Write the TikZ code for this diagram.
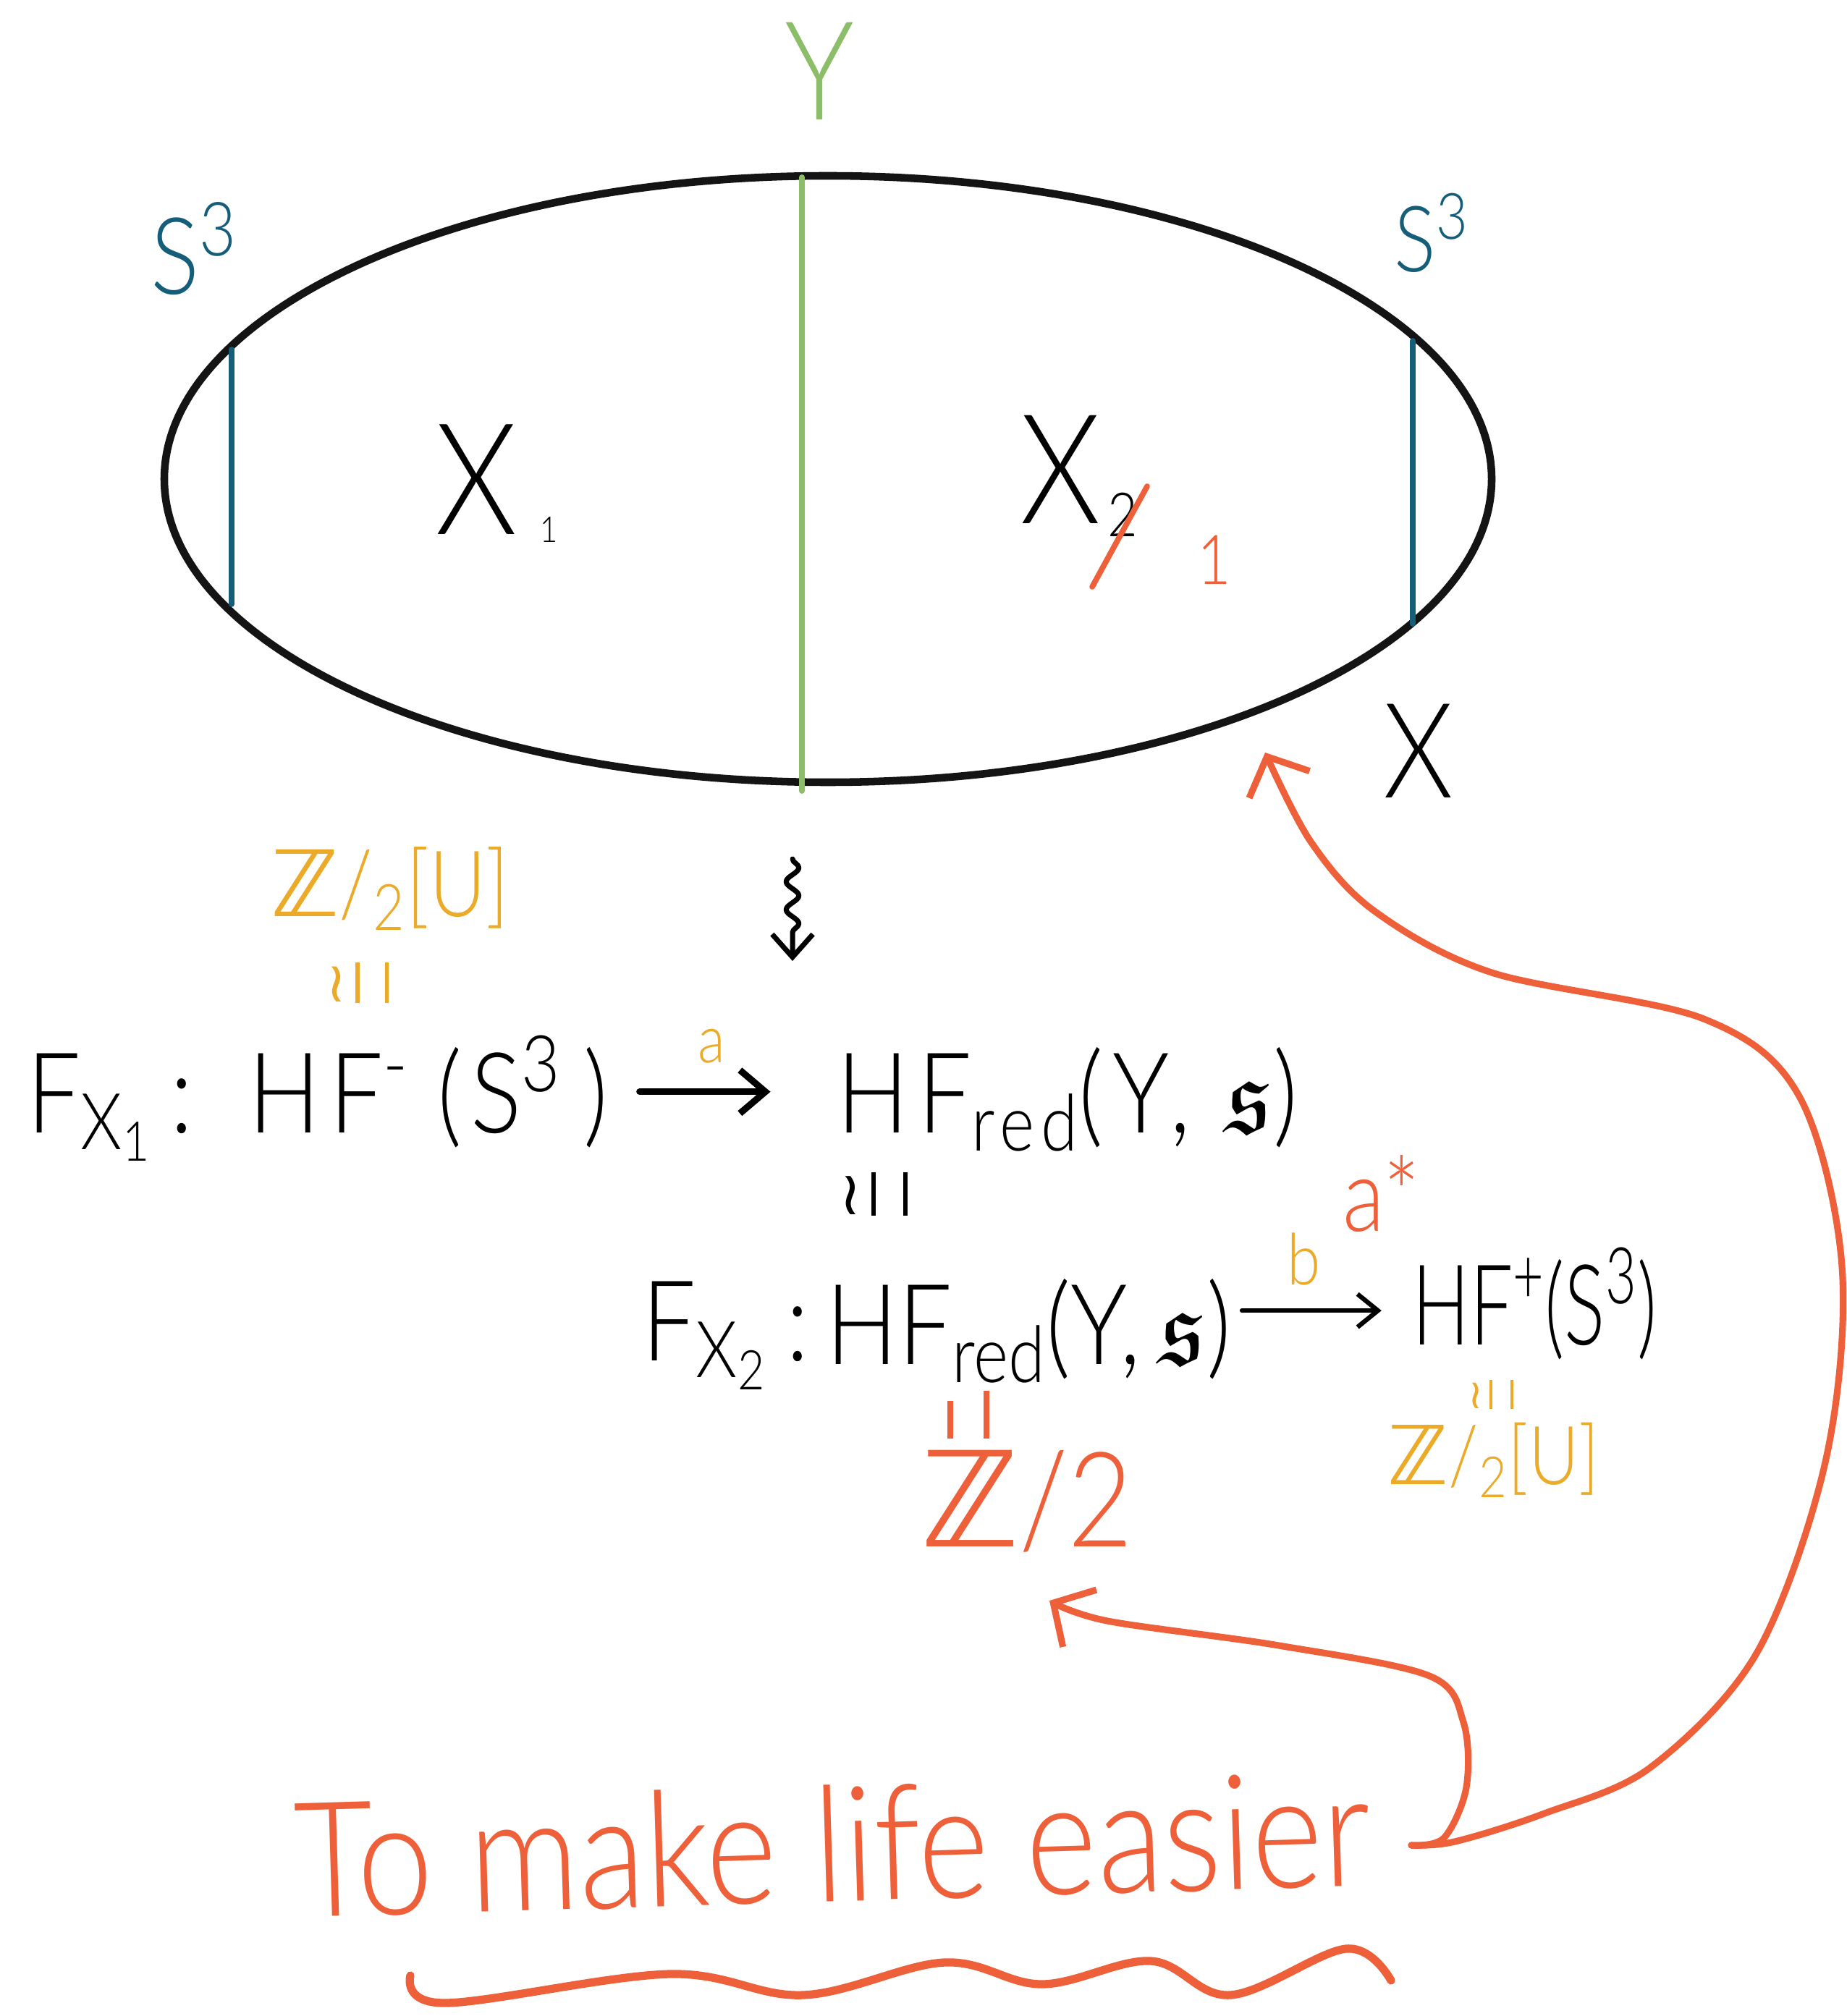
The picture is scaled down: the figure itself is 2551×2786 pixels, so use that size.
\RequirePackage{fix-cm}
\documentclass[tikz,border=0pt]{standalone}
\usepackage{fontspec}
\usepackage{graphicx}
\usepackage{amssymb}
\usetikzlibrary{arrows.meta,decorations.pathmorphing,calc}
\setmainfont{Lato}
\newfontfamily\hand{Lato}[FakeStretch=0.85, UprightFont=* Light]
\newfontfamily\handf{Lato}[FakeStretch=0.85, LetterSpace=8, UprightFont=* Light]
\newfontfamily\dv{DejaVu Sans}
\newcommand\ZZ{{\dv ℤ}}
\newcommand\vcong{{\dv ≀}\hspace{0.15em}\rule[-0.02em]{0.07em}{0.72em}\hspace{0.45em}\rule[-0.02em]{0.07em}{0.72em}}
\newcommand\spinc[1]{\scalebox{#1}{\fontsize{10}{12}\selectfont$\mathfrak{s}$}}
\definecolor{hgreen}{HTML}{8CBE69}
\definecolor{hteal}{HTML}{155E7A}
\definecolor{horange}{HTML}{EBAA28}
\definecolor{hred}{HTML}{EE603A}
\tikzset{
  sz/.style={inner sep=0pt, font=\hand\fontsize{#1}{#1}\selectfont},
  fm/.style={inner sep=0pt, anchor=base west, font=\handf\fontsize{44}{50}\selectfont},
  fmtwo/.style={inner sep=0pt, anchor=base west, font=\hand\fontsize{44}{50}\selectfont},
  arr/.style={-{Straight Barb[length=10pt,width=17pt]}, line width=2.6pt},
  arrtwo/.style={-{Straight Barb[length=8pt,width=13pt]}, line width=1.8pt},
  redarr/.style={hred, line width=2.6pt, -{Straight Barb[length=12pt,width=26pt]}},
}
\begin{document}
\begin{tikzpicture}[x=0.01cm, y=-0.01cm, line cap=round, line join=round]
\fill[white] (0,0) rectangle (2551,2786);
\useasboundingbox (0,0) rectangle (2551,2786);

% ---- the 4-manifold X ----
\draw[line width=3pt, black!92] (1144,662) ellipse [x radius=917, y radius=419];
\draw[hgreen, line width=2.2pt] (1108,245) -- (1108,1093);
\draw[hteal, line width=2.2pt] (320,483) -- (320,835);
\draw[hteal, line width=2.2pt] (1952,471) -- (1952,862);

\node[sz=54, hgreen] (ylab) at (1132,98) {Y};
\node[sz=42, hteal, anchor=base west] (s3l) at (208,407) {S\textsuperscript{3}};
\node[sz=36, hteal, anchor=base west] (s3r) at (1926,376) {S\textsuperscript{3}};
\node[sz=61, anchor=base west] (x1) at (601,739) {X\hspace{9pt}\raisebox{-3pt}{\fontsize{14}{14}\selectfont 1}};
\node[sz=60, anchor=base west] (x2) at (1409,724) {X};
\node[sz=24, anchor=base west] (x2sub) at (1530,742) {2};
\draw[hred, line width=2.2pt] (1509,811) -- (1585,672);
\node[sz=27, hred, anchor=base west] (x2one) at (1654,808) {1};
\node[sz=52] (xlab) at (1960,1038) {X};

% ---- squiggly arrow ----
\coordinate (sqtop) at (1095,1187);
\coordinate (sqbot) at (1095,1328);
\draw[line width=2pt, -{Straight Barb[length=9pt,width=16pt]},
  decorate, decoration={snake, amplitude=2.5pt, segment length=11pt, post length=7pt}]
  (sqtop) -- (sqbot);

% ---- first line ----
\node[sz=36, horange] (zu1) at (539,1228) {\ZZ/\textsubscript{2}[U]};
\node[horange, inner sep=0pt] (cong0) at (494,1358) {\fontsize{22}{22}\selectfont\vcong};

\node[fm] (fx1) at (37,1565) {F\textsubscript{X\textsubscript{1}}\,:};
\node[fm] (hfm) at (343,1565) {HF\textsuperscript{-}\hspace{0.25em}(S\textsuperscript{3}\hspace{0.2em})};
\node[fm] (hfr1) at (1156,1565) {HF\textsubscript{red}(Y, \spinc{4.2})};
\draw[arr, shorten <=12pt, shorten >=26pt] ([yshift=16pt]hfm.base east) --
  node[sz=26, horange, above=10pt, pos=0.45] (alab) {a} ([yshift=16pt]hfr1.base west);

\node[inner sep=0pt] (cong1) at (1207,1650) {\fontsize{24}{24}\selectfont\vcong};

% ---- second line ----
\node[fmtwo] (fx2) at (887,1880) {F\textsubscript{X\textsubscript{2}}\,:};
\node[fmtwo] (hfr2) at (1141,1885) {HF\textsubscript{red}(Y,\,\spinc{4.2})};
\node[fmtwo] (hfp) at (1951,1858) {\scalebox{0.8}[1]{HF\textsuperscript{+}(S\textsuperscript{3})}};
\coordinate (bst) at ([yshift=21pt]hfr2.base east);
\draw[arrtwo, shorten <=4pt, shorten >=12pt] (bst) --
  node[sz=28, horange, above=9pt, pos=0.4] (blab) {b} (bst -| hfp.west);
\node[sz=40, hred] (astar) at (1909,1650) {a*};

\node[hred, inner sep=0pt] (eq2) at (1338,1955) {\rule{2.2pt}{15pt}\hspace{12pt}\rule{2.2pt}{19pt}};
\node[sz=52, hred] (z2) at (1419,2075) {\ZZ/2};

\node[horange, inner sep=0pt] (cong3) at (2060,1927) {\fontsize{16}{16}\selectfont\vcong};
\node[sz=32, horange] (zu2) at (2064,2018) {\ZZ/\textsubscript{2}[U]};

% ---- annotation ----
\node[sz=63, hred, rotate=1.7] (life) at (1150,2548) {To make life easier};
\coordinate (hook) at (1950,2550);
\coordinate (ellhit) at (1748,1040);
\coordinate (zhit) at (1450,2212);
\draw[redarr] plot[smooth, tension=0.55] coordinates {
  (hook) (2010,2545) (2134,2506) (2281,2442) (2428,2283) (2523,2016)
  (2545,1750) (2486,1515) (2354,1408) (2061,1344) (1899,1259) (1811,1163) (ellhit)};
\draw[redarr] plot[smooth, tension=0.55] coordinates {
  (hook) (1995,2540) (2026,2470) (2022,2380) (1975,2316) (1767,2274) (1530,2240) (zhit)};
\draw[hred, line width=3.2pt] plot[smooth, tension=0.6] coordinates {
  (567,2730) (615,2768) (925,2728) (1110,2757) (1305,2712) (1440,2742)
  (1590,2710) (1700,2757) (1860,2693) (1922,2737)};
\end{tikzpicture}
\end{document}
